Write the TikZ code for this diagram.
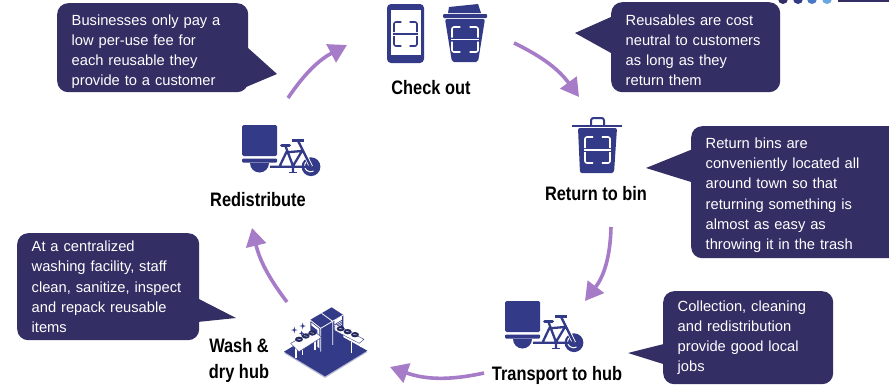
\documentclass[tikz,border=0pt]{standalone}
\usepackage{fontspec}
\setmainfont{Liberation Sans}
\newfontfamily\labelfont[FakeStretch=0.84]{Liberation Sans}
\usetikzlibrary{arrows.meta}
\definecolor{boxfill}{HTML}{332E64}
\definecolor{iconblue}{HTML}{333A87}
\definecolor{arrowpurple}{HTML}{A67CC8}
\tikzset{
    infobox/.style={fill=boxfill, rounded corners=11pt, text=white, align=left, inner ysep=0pt, inner xsep=14.5pt, anchor=north west,
        font=\fontsize{14.7}{20.2}\selectfont},
    textdrop/.style={execute at begin node={\rule{0pt}{#1}}},
    tail/.style={fill=boxfill},
    steplabel/.style={font=\labelfont\bfseries\fontsize{19.5}{26}\selectfont, text=black, align=center, inner sep=0pt},
    cyclearrow/.style={draw=arrowpurple, line width=3.6pt, -{Triangle[length=18pt,width=20pt]}, bend left=#1},
    cyclearrow/.default=20,
    icon/.style={fill=iconblue},
    pics/cargobike/.style={code={
        \fill[icon, rounded corners=1.5pt] (0,0) rectangle (35,31);
        \fill[icon, rounded corners=1pt] (0,33.5) rectangle (35,37.5);
        \fill[icon] (8,38) arc[start angle=180, end angle=360, radius=9.5pt] -- cycle;
        \fill[icon] (69,41.7) circle (9.4);
        \draw[white, line width=1pt] (64,37) arc[start angle=140, end angle=300, radius=6pt];
        \draw[white, line width=4pt] (60.5,24) -- (69,41.7);
        \draw[iconblue, line width=2.3pt] (28,41.7) -- (69,41.7) (56,15.7) -- (69,41.7)
            (38,40.5) -- (44.3,27.3) -- (60,26) (43.3,20.6) -- (51,41) -- (60,26) (51,41) -- (51,47);
        \draw[iconblue, line width=2.4pt] (50,15.4) -- (62,15.4);
        \draw[iconblue, line width=3pt, line cap=round] (39.5,20.6) -- (47.5,20.6);
        \draw[iconblue, line width=1.6pt] (47,47.5) -- (55,47.5);
    }},
}
% scan frame: colour, centre x, centre y, half width, half height
\newcommand{\scanmark}[5]{
    \draw[#1, line width=1.6pt, rounded corners=2pt]
        (#2-#4,#3-2) -- (#2-#4,#3-#5) -- (#2-0.35*#4,#3-#5)
        (#2+0.35*#4,#3-#5) -- (#2+#4,#3-#5) -- (#2+#4,#3-2)
        (#2-#4,#3+2) -- (#2-#4,#3+#5) -- (#2-0.35*#4,#3+#5)
        (#2+0.35*#4,#3+#5) -- (#2+#4,#3+#5) -- (#2+#4,#3+2);
    \draw[#1, line width=1.2pt] (#2-#4-1,#3) -- (#2+#4+1,#3);
}

\begin{document}
\begin{tikzpicture}[x=1pt,y=-1pt]
    \useasboundingbox (0,0) rectangle (889,388);
    \clip (0,0) rectangle (889,388);

    % corner of the slide behind
    \fill[fill=white] (0,0) rectangle (889,388);
    \fill[fill=boxfill] (783,-1) circle (5);
    \fill[fill=iconblue] (798,-1) circle (5);
    \fill[fill={rgb,255:red,74;green,120;blue,196}] (812,-1) circle (5);
    \fill[fill={rgb,255:red,106;green,168;blue,224}] (827,-1) circle (5);
    \fill[fill=boxfill] (838,-2) rectangle (889,2);

    % callouts
    \node[infobox, textdrop=18.5pt, minimum width=191pt, minimum height=89pt, text width=162pt] (bizbox) at (57,3) {Businesses only pay a\\low per-use fee for\\each reusable they\\provide to a customer};
    \node[infobox, textdrop=16.5pt, minimum width=169pt, minimum height=90pt, text width=140pt] (costbox) at (611,2) {Reusables are cost\\neutral to customers\\as long as they\\return them};
    \node[infobox, textdrop=16.5pt, minimum width=210pt, minimum height=132pt, text width=181pt] (binbox) at (691,126) {Return bins are\\conveniently located all\\around town so that\\returning something is\\almost as easy as\\throwing it in the trash};
    \node[infobox, textdrop=11pt, minimum width=170pt, minimum height=93pt, text width=141pt] (jobbox) at (663,291) {Collection, cleaning\\and redistribution\\provide good local\\jobs};
    \node[infobox, textdrop=11pt, minimum width=182pt, minimum height=107pt, text width=153pt] (washbox) at (17,233) {At a centralized\\washing facility, staff\\clean, sanitize, inspect\\and repack reusable\\items};

    \coordinate (biztip) at (277,74);
    \coordinate (costtip) at (575,33);
    \coordinate (bintip) at (646,168);
    \coordinate (jobtip) at (628,353);
    \coordinate (washtip) at (236,318);
    \fill[tail] (biztip) -- ([xshift=-4pt,yshift=3pt]bizbox.east) -- ([xshift=-4pt,yshift=-40pt]bizbox.east) -- cycle;
    \fill[tail] (costtip) -- ([xshift=4pt,yshift=32pt]costbox.west) -- ([xshift=4pt,yshift=-8pt]costbox.west) -- cycle;
    \fill[tail] (bintip) -- ([xshift=4pt,yshift=44pt]binbox.west) -- ([xshift=4pt,yshift=9pt]binbox.west) -- cycle;
    \fill[tail] (jobtip) -- ([xshift=4pt,yshift=-5.5pt]jobbox.west) -- ([xshift=4pt,yshift=-27.5pt]jobbox.west) -- cycle;
    \fill[tail] (washtip) -- ([xshift=-4pt,yshift=-10.5pt]washbox.east) -- ([xshift=-4pt,yshift=-35.5pt]washbox.east) -- cycle;

    % step labels
    \node[steplabel] (checkout) at (431,88) {Check out};
    \node[steplabel] (returnbin) at (596,194) {Return to bin};
    \node[steplabel] (transport) at (557,375) {Transport to hub};
    \node[steplabel] (washhub) at (239,360) {Wash \&\\dry hub};
    \node[steplabel] (redistribute) at (258,200) {Redistribute};

    % arrows round the loop
    \coordinate (a1) at (288,98);
    \coordinate (a2) at (347,45);
    \coordinate (b1) at (514,43);
    \coordinate (b2) at (579,97);
    \coordinate (c1) at (611,227);
    \coordinate (c2) at (585,301);
    \coordinate (d1) at (484,373);
    \coordinate (d2) at (390,367);
    \coordinate (e1) at (287,302);
    \coordinate (e2) at (252,228);
    \draw[cyclearrow=14] (a1) to (a2);
    \draw[cyclearrow=14] (b1) to (b2);
    \draw[cyclearrow=18] (c1) to (c2);
    \draw[cyclearrow=16] (d1) to (d2);
    \draw[cyclearrow=12] (e1) to (e2);

    % phone
    \fill[icon, rounded corners=4pt] (387,4) rectangle (424,63);
    \fill[white] (391,10) rectangle (421,55);
    \scanmark{iconblue}{405.5}{34}{11.5}{12}
    % cup
    \fill[icon] (448,13) -- (449,7) -- (478,4) -- (481,13) -- cycle;
    \fill[icon, rounded corners=1pt] (443,14) rectangle (487,18);
    \fill[icon, rounded corners=2pt] (445,19) -- (485,19) -- (478,62) -- (452,62) -- cycle;
    \scanmark{white}{465}{39.5}{13}{12.5}
    % bin
    \draw[iconblue, line width=2pt, rounded corners=2.5pt] (591,125) -- (591,118) -- (604,118) -- (604,125);
    \draw[iconblue, line width=2pt] (572,126) -- (622,126);
    \fill[icon, rounded corners=2pt] (578,128) -- (617,128) -- (614,173) -- (580,173) -- cycle;
    \scanmark{white}{597.5}{150}{12.5}{13}

    % bikes
    \pic at (505,301) {cargobike};
    \pic at (242,125) {cargobike};

    % wash and dry hub
    \begin{scope}[shift={(280,300)},x=0.3333pt,y=-0.3333pt]
        \fill[fill=iconblue!35!white] (12,159) -- (135,234) -- (262,156) -- (135,85) -- cycle;
        \fill[icon] (12,155) -- (135,229) -- (262,152) -- (135,81) -- cycle;
        % machines
        \fill[icon] (90,60) -- (155,22) -- (190,45) -- (190,110) -- (122,155) -- (90,132) -- cycle;
        \draw[white, line width=0.8pt, line join=round] (90,60) -- (122,85) -- (190,45) (122,85) -- (122,155) (158,64) -- (158,135) (125,40) -- (158,64) (90,60) -- (90,132);
        \fill[white] (94,68) -- (118,87) -- (118,145) -- (112,140) -- (112,90) -- (94,76) -- cycle;
        \fill[white] (163,62) -- (186,48) -- (186,58) -- (163,72) -- cycle;
        \foreach \wy in {0,5,10,15}{
            \draw[white, line width=0.5pt] (163,72+\wy) -- (186,58+\wy);
        }
        % belts
        \draw[white, line width=1.4pt] (48,145) -- (48,175) (68,135) -- (68,165) (105,120) -- (105,150);
        \fill[white, draw=iconblue, line width=0.4pt] (32,130) -- (100,92) -- (125,112) -- (57,155) -- cycle;
        \draw[white, line width=1.4pt] (215,125) -- (215,160) (243,125) -- (243,142);
        \fill[white, draw=iconblue, line width=0.4pt] (165,72) -- (252,118) -- (238,130) -- (165,92) -- cycle;
        \foreach \bx/\by in {57/118,77/108,97/99,182/86,203/95,225/104}{
            \fill[iconblue!70!black] (\bx,\by) ellipse (12 and 8);
            \draw[white, line width=0.4pt] (\bx-5,\by-1) -- (\bx+5,\by+1);
        }
        % sparkles
        \foreach \sx/\sy/\sr in {43/90/10,68/78/10,65/100/8}{
            \fill[icon] (\sx,\sy-\sr) -- (\sx+2,\sy-2) -- (\sx+\sr,\sy) -- (\sx+2,\sy+2) -- (\sx,\sy+\sr) -- (\sx-2,\sy+2) -- (\sx-\sr,\sy) -- (\sx-2,\sy-2) -- cycle;
        }
    \end{scope}
\end{tikzpicture}
\end{document}
